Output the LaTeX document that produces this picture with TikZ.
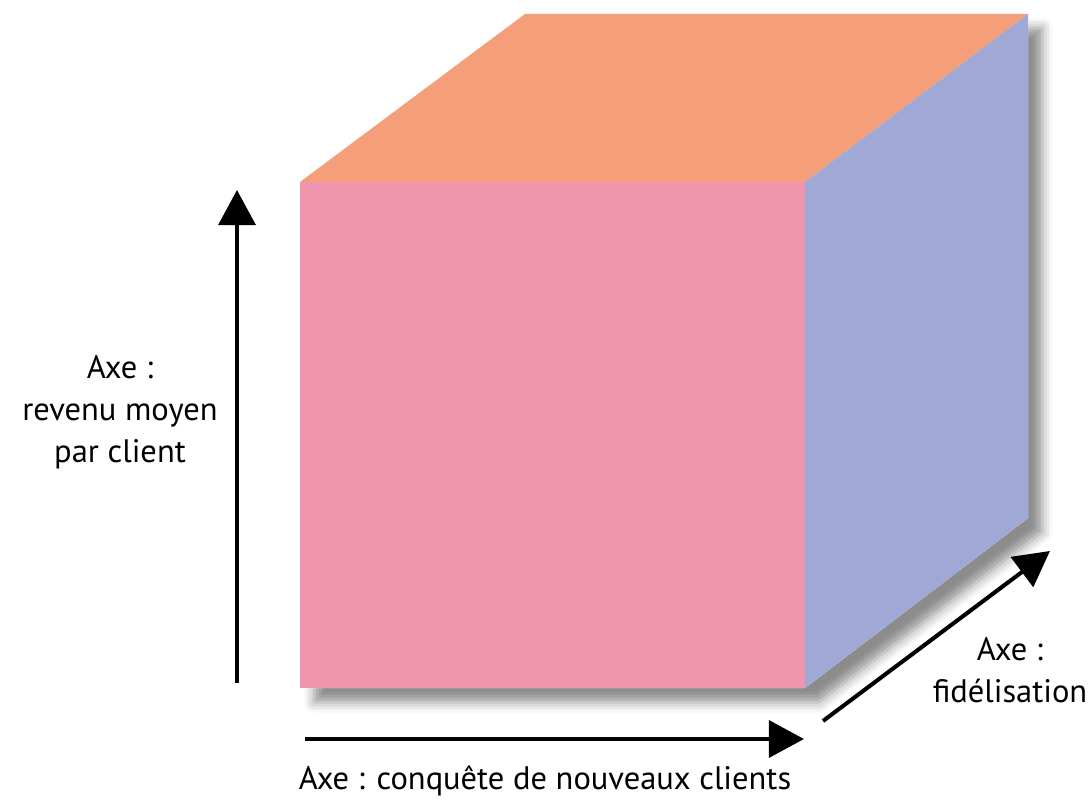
\documentclass[tikz,border=0pt]{standalone}
\usepackage{fontspec}
\setmainfont{PT Sans}
\usetikzlibrary{positioning,arrows.meta,calc,shadows.blur}
\definecolor{frontpink}{HTML}{EF95AE}
\definecolor{toporange}{HTML}{F59E7A}
\definecolor{sideblue}{HTML}{A0A8D6}

\begin{document}
\begin{tikzpicture}[x=0.02cm,y=-0.02cm,
  axis/.style={black,line width=2.3pt,line join=miter,
    -{Triangle[length=20pt,width=21pt,fill=black]}},
  axislabel/.style={align=center,font=\fontsize{18.5}{24}\selectfont,inner sep=0pt}]
  \useasboundingbox (0,0) rectangle (1089,807);
  % cube corners
  \coordinate (ftl) at (300,182);
  \coordinate (ftr) at (805,182);
  \coordinate (fbl) at (300,688);
  \coordinate (fbr) at (805,688);
  \coordinate (btl) at (525,14);
  \coordinate (btr) at (1028,14);
  \coordinate (bbr) at (1028,518);
  % silhouette with soft shadow
  \fill[white,blur shadow={shadow xshift=8pt,shadow yshift=-8pt,shadow blur radius=6pt,shadow opacity=45}]
    (ftl) -- (btl) -- (btr) -- (bbr) -- (fbr) -- (fbl) -- cycle;
  \fill[toporange] (ftl) -- (btl) -- (btr) -- (ftr) -- cycle;
  \fill[sideblue] (ftr) -- (btr) -- (bbr) -- (fbr) -- cycle;
  \fill[frontpink] (ftl) rectangle (fbr);
  % axes
  \coordinate (vstart) at (237,683);
  \coordinate (vend) at (237,190);
  \coordinate (hstart) at (305,739);
  \coordinate (hend) at (804,739);
  \coordinate (dstart) at (823,721);
  \coordinate (dend) at (1050,551);
  \draw[axis] (vstart) -- (vend);
  \draw[axis] (hstart) -- (hend);
  \draw[axis] (dstart) -- (dend);
  \node[axislabel] (revenu) at (120,412) {Axe :\\revenu moyen\\par client};
  \node[axislabel] (conquete) at (545,781) {Axe : conquête de nouveaux clients};
  \node[axislabel] (fidel) at (1010,670) {Axe :\\fidélisation};
\end{tikzpicture}
\end{document}
